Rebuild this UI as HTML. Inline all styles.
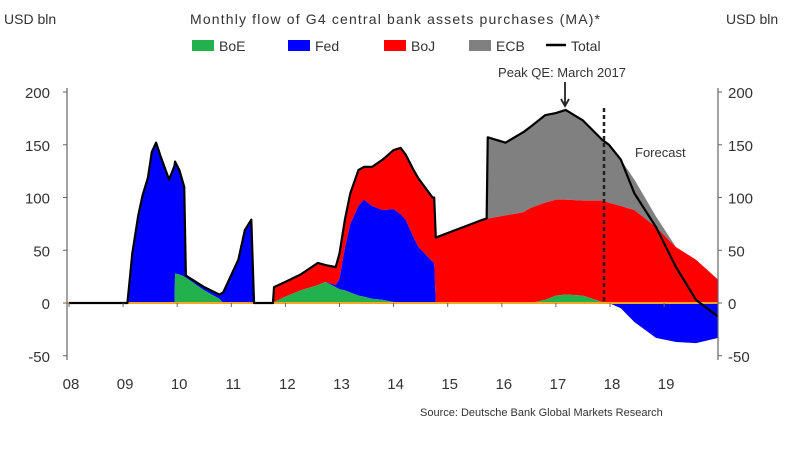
<!DOCTYPE html>
<html><head><meta charset="utf-8"><style>
body{margin:0;background:#fff;width:800px;height:445px;overflow:hidden}
svg{font-family:"Liberation Sans",sans-serif;fill:#333}
</style></head><body>
<svg id="chart" width="800" height="445">
<text x="395" y="24" text-anchor="middle" font-size="14" textLength="410">Monthly flow of G4 central bank assets purchases (MA)*</text>
<text x="4" y="24" font-size="14">USD bln</text>
<text x="726" y="24" font-size="14">USD bln</text>
<g id="legend"></g>
<g id="plot"></g>
<text x="420" y="416" font-size="11">Source:   Deutsche Bank Global Markets Research</text>
</svg>
<script>
const dates=[2008.0,2009.08,2009.17,2009.28,2009.36,2009.46,2009.53,2009.61,2009.7,2009.85,2009.95,2009.96,2010.04,2010.13,2010.16,2010.5,2010.78,2010.85,2011.13,2011.25,2011.37,2011.42,2011.77,2011.79,2012.0,2012.28,2012.6,2012.74,2012.93,2013.0,2013.1,2013.2,2013.35,2013.45,2013.6,2013.8,2014.0,2014.13,2014.22,2014.37,2014.46,2014.72,2014.75,2014.78,2015.65,2015.72,2015.74,2016.07,2016.4,2016.53,2016.8,2017.0,2017.18,2017.5,2017.85,2017.98,2018.2,2018.45,2018.85,2019.22,2019.59,2020.0];
const boe=[0,0,0,0,0,0,0,0,0,0,0,28,27,25,24,12,4,0,0,0,0,0,0,1,6,12,17,20,15,13,12,10,7,6,4,3,1,0,0,0,0,0,0,0,0,0,0,0,0,0,3,7,8,7,1,0,0,0,0,0,0,0];
const fed=[0,0,47,83,102,119,143,152,138,117,130,106,99,85,2,3,4,10,41,69,79,0,0,0,0,0,0,0,2,10,40,65,85,92,88,85,88,84,79,62,53,39,38,0,0,0,0,0,0,0,0,0,0,0,0,0,-5,-18,-33,-37,-38,-33];
const boj=[0,0,0,0,0,0,0,0,0,0,0,0,0,0,0,0,0,0,0,0,0,0,0,14,14,15,21,16,17,24,27,29,34,31,37,48,56,63,62,64,65,61,62,62,79,80,80,83,86,90,92,91,90,90,96,95,92,88,72,53,41,22];
const ecb=[0,0,0,0,0,0,0,0,0,0,0,0,0,0,0,0,0,0,0,0,0,0,0,0,0,0,0,0,0,0,0,0,0,0,0,0,0,0,0,0,0,0,0,0,0,0,77,69,76,77,83,82,85,76,58,55,44,29,10,0,0,0];
const total=[0,0,47,83,102,119,143,152,138,117,130,134,126,110,26,15,8,10,41,69,79,0,0,15,20,27,38,36,34,47,79,104,126,129,129,136,145,147,141,126,118,100,100,62,79,80,157,152,162,167,178,180,183,173,155,150,136,104,72,34,3,-13];
const yTicks=[200,150,100,50,0,-50];
const xTickYears=[2008,2009,2010,2011,2012,2013,2014,2015,2016,2017,2018,2019];
const xTickLabels=["08","09","10","11","12","13","14","15","16","17","18","19"];

const NS="http://www.w3.org/2000/svg";
const X=t=>69+(t-2008)*54.1;
const Y=v=>303-v*1.055;
const plot=document.getElementById('plot');
function mk(tag,attrs,parent){const e=document.createElementNS(NS,tag);for(const k in attrs)e.setAttribute(k,attrs[k]);(parent||plot).appendChild(e);return e;}

// stacks
const pos=v=>Math.max(v,0);
const n=dates.length;
const base0=new Array(n).fill(0);
const l1=dates.map((d,i)=>boe[i]);
const l2=dates.map((d,i)=>l1[i]+pos(fed[i]));
const l3=dates.map((d,i)=>l2[i]+boj[i]);
const l4=dates.map((d,i)=>l3[i]+ecb[i]);
const fedNeg=dates.map((d,i)=>Math.min(fed[i],0));
function area(lo,hi){let p='M'+X(dates[0])+','+Y(hi[0]);for(let i=1;i<n;i++)p+='L'+X(dates[i])+','+Y(hi[i]);for(let i=n-1;i>=0;i--)p+='L'+X(dates[i])+','+Y(lo[i]);return p+'Z';}
let e;
e=mk('path',{d:area(l3,l4),fill:'#808080'});


e=mk('path',{d:area(l2,l3),fill:'#ff0000'});


e=mk('path',{d:area(l1,l2),fill:'#0000ff'});


e=mk('path',{d:area(fedNeg,base0),fill:'#0000ff'});


e=mk('path',{d:area(base0,l1),fill:'#22b14c'});



// zero line
e=mk('line',{x1:67,x2:718,y1:Y(0),y2:Y(0),stroke:'#f5a623','stroke-width':2});



// total line
let tp='';for(let i=0;i<n;i++)tp+=(i?'L':'M')+X(dates[i])+','+Y(total[i]);
e=mk('path',{d:tp,fill:'none',stroke:'#000','stroke-width':2.2,'stroke-linejoin':'round'});



// axes
e=mk('line',{x1:67,x2:67,y1:88,y2:360,stroke:'#666','stroke-width':1.2});


e=mk('line',{x1:718,x2:718,y1:88,y2:360,stroke:'#666','stroke-width':1.2});


yTicks.forEach(v=>{
  const y=Y(v);
  mk('line',{x1:63,x2:67,y1:y,y2:y,stroke:'#666'});
  mk('line',{x1:718,x2:722,y1:y,y2:y,stroke:'#666'});
  e=mk('text',{x:50,y:y+6,'text-anchor':'end','font-size':15});e.textContent=v;
  
  
  e=mk('text',{x:728,y:y+6,'font-size':15});e.textContent=v;
  
  
});
xTickYears.forEach((t,i)=>{
  const x=X(t);
  mk('line',{x1:x,x2:x,y1:303,y2:307,stroke:'#666'});
  e=mk('text',{x:x+2,y:389,'text-anchor':'middle','font-size':15});e.textContent=xTickLabels[i];
  
  
});

// forecast marker
e=mk('line',{x1:604,x2:604,y1:108,y2:303,stroke:'#222','stroke-width':2.5,'stroke-dasharray':'4,3'});


e=mk('text',{x:635,y:157,'font-size':13});e.textContent='Forecast';


e=mk('text',{x:562,y:77,'text-anchor':'middle','font-size':13});e.textContent='Peak QE: March 2017';


e=mk('path',{d:'M565,82 L565,104 M561,99 L565,106 L569,99',stroke:'#222','stroke-width':1.8,fill:'none'});



// legend
const lg=document.getElementById('legend');
const legNames=['BoE','Fed','BoJ','ECB'];
const legColors=['#22b14c','#0000ff','#ff0000','#808080'];
const legX=[192,288,384,469];
legNames.forEach((nm,i)=>{
  e=mk('rect',{x:legX[i],y:40,width:22,height:11,fill:legColors[i]},lg);
  
  
  e=mk('text',{x:legX[i]+27,y:51,'font-size':14},lg);e.textContent=nm;
  
  
});
e=mk('line',{x1:546,x2:566,y1:45,y2:45,stroke:'#000','stroke-width':2.5},lg);


e=mk('text',{x:571,y:51,'font-size':14},lg);e.textContent='Total';


</script>
</body></html>
